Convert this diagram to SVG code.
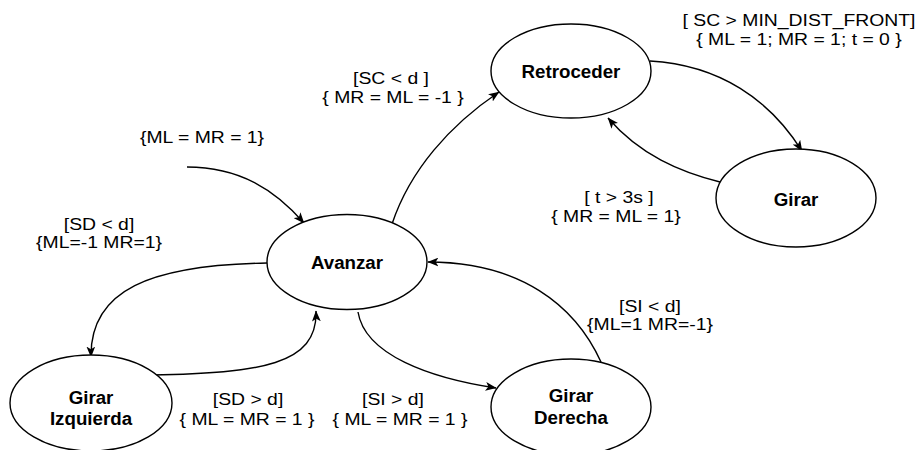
<svg xmlns="http://www.w3.org/2000/svg" width="917" height="450" viewBox="0 0 917 450">
<style>
.node ellipse{fill:#fff;stroke:#000;stroke-width:1.4}
.node text{font-family:"Liberation Sans",Arial,sans-serif;font-size:18px;font-weight:bold;text-anchor:middle;fill:#000}
.lbl{font-family:"Liberation Sans",Arial,sans-serif;font-size:17px;text-anchor:middle;fill:#000}
.edge{fill:none;stroke:#000;stroke-width:1.4;marker-end:url(#arr)}
</style>
<defs>
<marker id="arr" viewBox="0 0 10 8" refX="9.5" refY="4" markerWidth="11" markerHeight="9" markerUnits="userSpaceOnUse" orient="auto">
<path d="M0,0 L10,4 L0,8 L2.5,4 Z" fill="#000"/>
</marker>
</defs>
<rect width="917" height="450" fill="#fff"/>
<g id="connectors">
<path class="edge" d="M187,167 C240,167 275,190 304,223"/>
<path class="edge" d="M392,224 C410,170 450,125 499,92"/>
<path class="edge" d="M650,61 C720,65 770,100 802,151"/>
<path class="edge" d="M720,182 C680,172 640,155 608,118"/>
<path class="edge" d="M267,263 C150,265 90,290 91,357"/>
<path class="edge" d="M152,375 C260,373 318,365 316,311"/>
<path class="edge" d="M358,312 C365,355 430,378 496,388"/>
<path class="edge" d="M601,362 C575,305 520,262 428,262"/>
</g>
<g id="labels">
<text class="lbl" transform="matrix(1.14 0 0 1 391 84)">[SC &lt; d ]</text>
<text class="lbl" transform="matrix(1.14 0 0 1 393 103)">{ MR = ML = -1 }</text>
<text class="lbl" transform="matrix(1.14 0 0 1 202 143)">{ML = MR = 1}</text>
<text class="lbl" transform="matrix(1.14 0 0 1 99 230)">[SD &lt; d]</text>
<text class="lbl" transform="matrix(1.14 0 0 1 99 247.5)">{ML=-1 MR=1}</text>
<text class="lbl" transform="matrix(1.14 0 0 1 799 26)">[ SC &gt; MIN_DIST_FRONT]</text>
<text class="lbl" transform="matrix(1.14 0 0 1 799 45)">{ ML = 1; MR = 1; t = 0 }</text>
<text class="lbl" transform="matrix(1.14 0 0 1 619 203)">[ t &gt; 3s ]</text>
<text class="lbl" transform="matrix(1.14 0 0 1 616 222)">{ MR = ML = 1}</text>
<text class="lbl" transform="matrix(1.14 0 0 1 248 405)">[SD &gt; d]</text>
<text class="lbl" transform="matrix(1.14 0 0 1 247 425)">{ ML = MR = 1 }</text>
<text class="lbl" transform="matrix(1.14 0 0 1 393 405)">[SI &gt; d]</text>
<text class="lbl" transform="matrix(1.14 0 0 1 400 425)">{ ML = MR = 1 }</text>
<text class="lbl" transform="matrix(1.14 0 0 1 650 312)">[SI &lt; d]</text>
<text class="lbl" transform="matrix(1.14 0 0 1 650 330)">{ML=1 MR=-1}</text>
</g>
<g id="avanzar" class="node">
<ellipse cx="347" cy="262" rx="80" ry="47.5"/>
<text transform="matrix(1.04 0 0 1 347 268.5)">Avanzar</text>
</g>
<g id="retroceder" class="node">
<ellipse cx="571" cy="71" rx="80" ry="47"/>
<text transform="matrix(1.04 0 0 1 571 77.5)">Retroceder</text>
</g>
<g id="girar" class="node">
<ellipse cx="796" cy="198" rx="80" ry="49"/>
<text transform="matrix(1.04 0 0 1 796 205.5)">Girar</text>
</g>
<g id="girar-izquierda" class="node">
<ellipse cx="91" cy="403" rx="81" ry="48"/>
<text transform="matrix(1.04 0 0 1 91 403.5)">Girar</text>
<text transform="matrix(1.04 0 0 1 91 424.5)">Izquierda</text>
</g>
<g id="girar-derecha" class="node">
<ellipse cx="571" cy="407" rx="80" ry="48"/>
<text transform="matrix(1.04 0 0 1 571 401.5)">Girar</text>
<text transform="matrix(1.04 0 0 1 571 423.5)">Derecha</text>
</g>
</svg>
